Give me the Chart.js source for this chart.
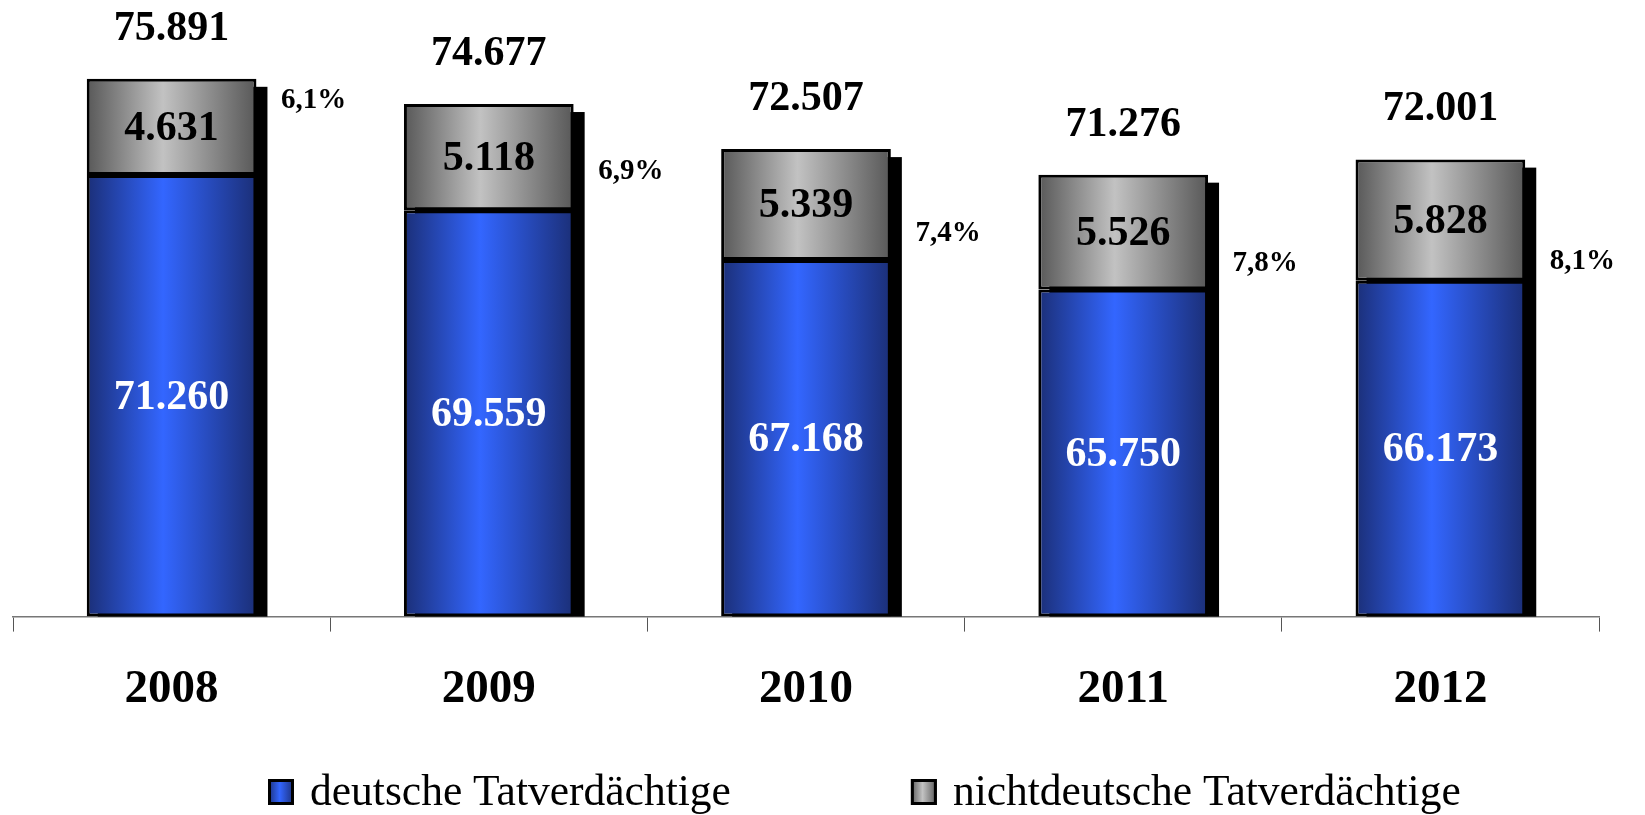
<!DOCTYPE html>
<html>
<head>
<meta charset="utf-8">
<script src="https://cdn.jsdelivr.net/npm/chart.js@4"></script>
<style>
  html, body { margin: 0; padding: 0; background: #fff; }
  canvas { display: block; }
</style>
</head>
<body>
<canvas id="chart" width="1645" height="815"></canvas>
<script>
// Daten
const years = ['2008', '2009', '2010', '2011', '2012'];
const deutsche = [71260, 69559, 67168, 65750, 66173];
const nichtdeutsche = [4631, 5118, 5339, 5526, 5828];
const gesamt = [75891, 74677, 72507, 71276, 72001];
// where the percentage labels sit (in value units)
const pctLabelAt = [74850, 71450, 68450, 67000, 67100];

const FONT = '"Liberation Serif", "Times New Roman", serif';
const BAR_PCT = 0.535;
const Y_MIN = 50000;

const colors = {
    blueDark: '#1b2f78',
    blueLight: '#3366ff',
    greyDark: '#585858',
    greyLight: '#c2c2c2',
};

function fmt(n) {
    return String(n).replace(/\B(?=(\d{3})+(?!\d))/g, '.');
}

// horizontal gradient over each bar
function barGradient(ctx, dark, light) {
    const chart = ctx.chart;
    if (!chart.chartArea || ctx.dataIndex === undefined) return light;
    const x = chart.scales.x;
    const center = x.getPixelForValue(ctx.dataIndex);
    const half = x.width / years.length * BAR_PCT / 2;
    const g = chart.ctx.createLinearGradient(center - half, 0, center + half, 0);
    g.addColorStop(0, dark);
    g.addColorStop(0.45, light);
    g.addColorStop(1, dark);
    return g;
}

// black drop shadow behind each stacked bar
const shadowPlugin = {
    id: 'barShadow',
    beforeDatasetsDraw(chart) {
        const ctx = chart.ctx;
        const low = chart.getDatasetMeta(0).data;
        const high = chart.getDatasetMeta(1).data;
        const bottom = chart.chartArea.bottom;
        ctx.save();
        ctx.fillStyle = '#000';
        low.forEach((el, i) => {
            const top = high[i].y;
            const left = el.x - el.width / 2;
            ctx.fillRect(left + 11, top + 8, el.width, bottom - top - 8);
        });
        ctx.restore();
    }
};

const labelPlugin = {
    id: 'valueLabels',
    afterDatasetsDraw(chart) {
        const ctx = chart.ctx;
        const low = chart.getDatasetMeta(0).data;
        const high = chart.getDatasetMeta(1).data;
        const x = chart.scales.x;
        const y = chart.scales.y;
        const bottom = chart.chartArea.bottom;
        ctx.save();
        ctx.textAlign = 'center';
        ctx.textBaseline = 'middle';
        low.forEach((el, i) => {
            ctx.font = 'bold 42px ' + FONT;
            ctx.fillStyle = '#fff';
            ctx.fillText(fmt(deutsche[i]), el.x, (el.y + Math.min(el.base, bottom)) / 2 + 2);
            const g = high[i];
            ctx.fillStyle = '#000';
            ctx.fillText(fmt(nichtdeutsche[i]), g.x, (g.y + g.base) / 2 + 2);
            ctx.fillText(fmt(gesamt[i]), x.getPixelForValue(i), g.y - 50);
            ctx.font = 'bold 29px ' + FONT;
            const pct = (nichtdeutsche[i] / gesamt[i] * 100).toFixed(1).replace('.', ',') + '%';
            ctx.fillText(pct, x.getPixelForValue(i) + 142, y.getPixelForValue(pctLabelAt[i]));
        });
        ctx.restore();
    }
};

// Legende unten
const legendPlugin = {
    id: 'bottomLegend',
    afterDraw(chart) {
        const ctx = chart.ctx;
        const box = 26;
        const baseY = 805;
        let left = 268;
        ctx.save();
        ctx.font = '43.5px ' + FONT;
        ctx.textBaseline = 'alphabetic';
        chart.data.datasets.forEach((ds) => {
            const g = ctx.createLinearGradient(left, 0, left + box, 0);
            g.addColorStop(0, ds.dark);
            g.addColorStop(0.45, ds.light);
            g.addColorStop(1, ds.dark);
            ctx.fillStyle = g;
            ctx.fillRect(left, baseY - box, box, box);
            ctx.lineWidth = 3;
            ctx.strokeStyle = '#000';
            ctx.strokeRect(left + 1.5, baseY - box + 1.5, box - 3, box - 3);
            ctx.fillStyle = '#000';
            ctx.fillText(ds.label, left + box + 16, baseY);
            left += box + 16 + ctx.measureText(ds.label).width + 180;
        });
        ctx.restore();
    }
};

new Chart(document.getElementById('chart'), {
    type: 'bar',
    data: {
        labels: years,
        datasets: [{
            label: 'deutsche Tatverdächtige',
            data: deutsche,
            base: Y_MIN,
            dark: colors.blueDark,
            light: colors.blueLight,
            backgroundColor: (c) => barGradient(c, colors.blueDark, colors.blueLight),
        }, {
            label: 'nichtdeutsche Tatverdächtige',
            data: nichtdeutsche,
            dark: colors.greyDark,
            light: colors.greyLight,
            backgroundColor: (c) => barGradient(c, colors.greyDark, colors.greyLight),
        }],
    },
    options: {
        responsive: false,
        animation: false,
        devicePixelRatio: 1,
        layout: { padding: { left: 13, right: 46, top: 35, bottom: 67 } },
        datasets: {
            bar: {
                borderColor: '#000',
                borderWidth: 3,
                borderSkipped: false,
                categoryPercentage: 1,
                barPercentage: BAR_PCT,
            },
        },
        scales: {
            x: {
                stacked: true,
                grid: {
                    offset: true,
                    drawOnChartArea: false,
                    tickLength: 15,
                    color: '#555',
                },
                border: { display: true, color: '#777', width: 1.5 },
                ticks: {
                    color: '#000',
                    padding: 30,
                    font: { family: FONT, size: 47, weight: 'bold' },
                },
            },
            y: {
                stacked: true,
                display: false,
                min: Y_MIN,
                max: 78000,
            },
        },
        plugins: {
            legend: { display: false },
            tooltip: { enabled: false },
        },
    },
    plugins: [shadowPlugin, labelPlugin, legendPlugin],
});
</script>
</body>
</html>
